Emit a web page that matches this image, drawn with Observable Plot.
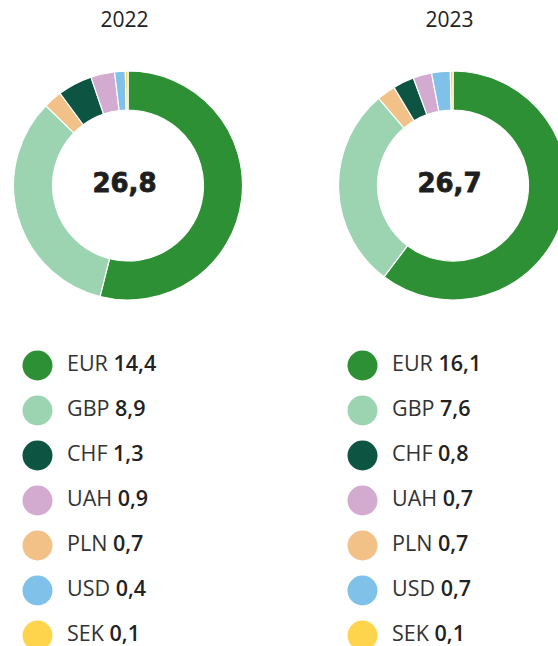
<!DOCTYPE html>
<html>
<head>
<meta charset="utf-8">
<script src="https://cdn.jsdelivr.net/npm/d3@7"></script>
<script src="https://cdn.jsdelivr.net/npm/@observablehq/plot@0.6"></script>
<style>
  html, body { margin: 0; padding: 0; background: #fff; overflow: hidden; }
  #chart svg { display: block; overflow: visible; }
</style>
</head>
<body>
<div id="chart"></div>
<script>
// ---- data ----
const years = ["2022", "2023"];
const totals = ["26,8", "26,7"];
const currencies = ["EUR", "GBP", "CHF", "UAH", "PLN", "USD", "SEK"];
const values2022 = [14.4, 8.9, 1.3, 0.9, 0.7, 0.4, 0.1];
const values2023 = [16.1, 7.6, 0.8, 0.7, 0.7, 0.7, 0.1];
const ringOrder = ["EUR", "GBP", "PLN", "CHF", "UAH", "USD", "SEK"];
const colors = ["#2e9034", "#9cd3b0", "#0d5443", "#d3abd1", "#f1c187", "#80c1e9", "#fdd44b"];

const seriesByYear = [values2022, values2023];
const table = years.flatMap((yr, i) =>
  currencies.map((c, j) => ({ year: yr, currency: c, value: seriesByYear[i][j] }))
);
const fmt = v => d3.format(".1f")(v).replace(".", ",");

// ---- layout constants ----
const W = 558, H = 646;
const cy = 185.5, rOuter = 114.5, rInner = 75.5;
const baseFont = "'Open Sans', 'Noto Sans', sans-serif";

// donut mark drawn with the plot's x and color scales
function donutMark(index, scales) {
  const g = d3.create("svg:g");
  const pie = d3.pie().sort(null).value(d => d.value);
  const arc = d3.arc().innerRadius(rInner).outerRadius(rOuter);
  years.forEach(yr => {
    const slices = ringOrder.map(c => table.find(d => d.year === yr && d.currency === c));
    g.append("g")
      .attr("transform", `translate(${scales.x(yr)},${cy})`)
      .selectAll("path")
      .data(pie(slices))
      .join("path")
      .attr("d", arc)
      .attr("fill", d => scales.color(d.data.currency))
      .attr("stroke", "#fff")
      .attr("stroke-width", 1.2)
      .attr("stroke-linejoin", "round");
  });
  return g.node();
}

// legend labels with mixed weights, positioned by the plot's scales
function legendText(index, scales) {
  const g = d3.create("svg:g")
    .attr("font-family", baseFont)
    .attr("font-size", 21.5)
    .attr("text-anchor", "start");
  table.forEach(d => {
    const t = g.append("text")
      .attr("x", scales.x(d.year) - 61)
      .attr("y", scales.y(d.currency) - 1)
      .attr("dy", "0.32em");
    t.append("tspan").attr("fill", "#333").attr("font-weight", 400).text(d.currency + " ");
    t.append("tspan").attr("fill", "#222").attr("font-weight", 600).text(fmt(d.value));
  });
  return g.node();
}

const chart = Plot.plot({
  width: W,
  height: H,
  margin: 0,
  style: { fontFamily: baseFont, background: "#fff" },
  x: { type: "point", domain: years, range: [128, 453], padding: 0, axis: null },
  y: { type: "point", domain: currencies, range: [364.5, 634.5], padding: 0, axis: null },
  color: { domain: currencies, range: colors },
  marks: [
    donutMark,
    Plot.dot(table, { x: "year", y: "currency", dx: -91, r: 15, fill: "currency", stroke: null }),
    legendText,
    Plot.text(years, {
      x: d => d, dx: -4, frameAnchor: "top", dy: 20, text: d => d,
      fontSize: 21, fill: "#222", lineAnchor: "middle"
    }),
    Plot.text(years, {
      x: d => d, dx: -4, frameAnchor: "top", dy: 183.5, text: (d, i) => totals[i],
      fontSize: 26, fontWeight: "bold", fontFamily: "'DejaVu Sans', sans-serif",
      fill: "#1e1e1e", stroke: "#1e1e1e", strokeWidth: 0.8, lineAnchor: "middle"
    })
  ]
});

document.getElementById("chart").appendChild(chart);
</script>
</body>
</html>
